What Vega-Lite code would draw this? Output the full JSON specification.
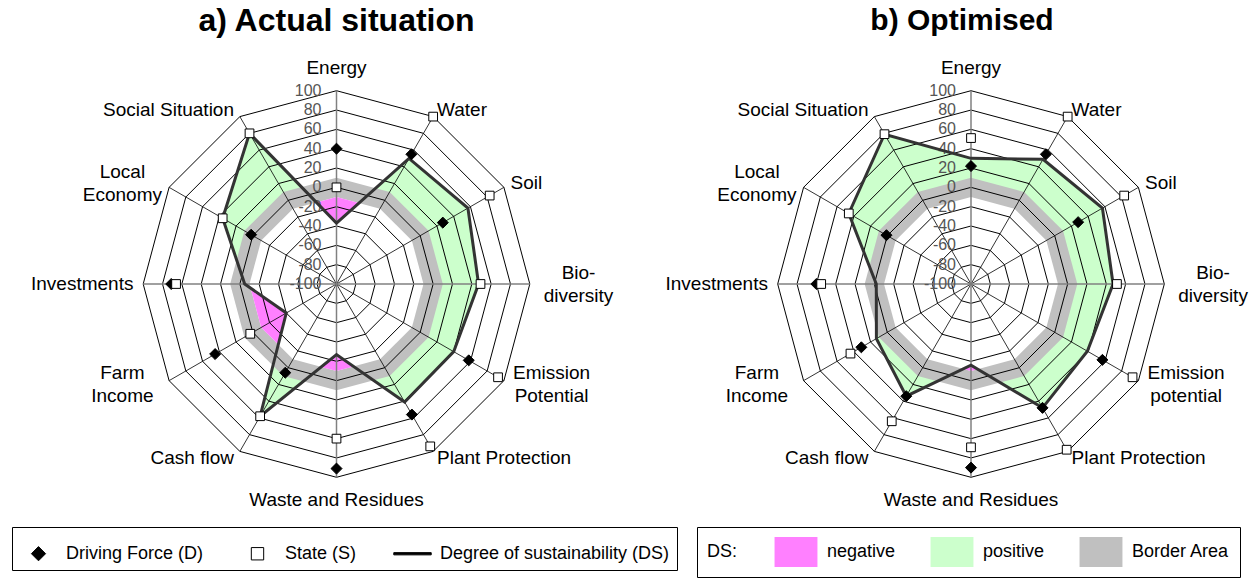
{
"$schema": "https://vega.github.io/schema/vega-lite/v6.json",
"padding": {"left": 0, "top": 5, "right": 0, "bottom": 0},
"spacing": 0,
"bounds": "flush",
"background": "white",
"config": {"view": {"stroke": null}, "font": "Liberation Sans"},
"resolve": {"scale": {"x": "independent", "y": "independent"}},
"datasets": {
"vals": [
{"p":"a","i":0,"D":40,"S":0,"DS":-37},
{"p":"a","i":1,"D":55,"S":100,"DS":50},
{"p":"a","i":2,"D":27,"S":83,"DS":57},
{"p":"a","i":3,"D":null,"S":49,"DS":47},
{"p":"a","i":4,"D":58,"S":93,"DS":40},
{"p":"a","i":5,"D":56,"S":94,"DS":41},
{"p":"a","i":6,"D":91,"S":60,"DS":-27},
{"p":"a","i":7,"D":6,"S":58,"DS":58},
{"p":"a","i":8,"D":45,"S":3,"DS":-40},
{"p":"a","i":9,"D":71,"S":66,"DS":-5},
{"p":"a","i":10,"D":2,"S":36,"DS":36},
{"p":"a","i":11,"D":null,"S":80,"DS":80},
{"p":"b","i":0,"D":22,"S":51,"DS":30},
{"p":"b","i":1,"D":55,"S":100,"DS":49},
{"p":"b","i":2,"D":28,"S":83,"DS":57},
{"p":"b","i":3,"D":null,"S":51,"DS":47},
{"p":"b","i":4,"D":57,"S":93,"DS":39},
{"p":"b","i":5,"D":48,"S":98,"DS":48},
{"p":"b","i":6,"D":90,"S":69,"DS":-16},
{"p":"b","i":7,"D":34,"S":64,"DS":34},
{"p":"b","i":8,"D":31,"S":44,"DS":13},
{"p":"b","i":9,"D":60,"S":55,"DS":-2},
{"p":"b","i":10,"D":1,"S":46,"DS":46},
{"p":"b","i":11,"D":null,"S":79,"DS":79}
],
"pink": [
{"p":"a","g":1,"o":0,"a":346.18,"v":-13.06},
{"p":"a","g":1,"o":1,"a":360,"v":-10},
{"p":"a","g":1,"o":2,"a":375.53,"v":-13.06},
{"p":"a","g":1,"o":3,"a":360,"v":-37},
{"p":"a","g":2,"o":0,"a":223.85,"v":-13.04},
{"p":"a","g":2,"o":1,"a":240,"v":-10},
{"p":"a","g":2,"o":2,"a":267.24,"v":-11.05},
{"p":"a","g":2,"o":3,"a":240,"v":-40},
{"p":"a","g":3,"o":0,"a":168.32,"v":-12.9},
{"p":"a","g":3,"o":1,"a":180,"v":-10},
{"p":"a","g":3,"o":2,"a":190.44,"v":-12.8},
{"p":"a","g":3,"o":3,"a":180,"v":-27},
{"p":"b","g":4,"o":0,"a":175.5,"v":-11.6},
{"p":"b","g":4,"o":1,"a":180,"v":-10},
{"p":"b","g":4,"o":2,"a":185.23,"v":-11.8},
{"p":"b","g":4,"o":3,"a":180,"v":-16}
],
"rings": [
{"v":-80,"k":[0,1,2,3,4,5,6,7,8,9,10,11]},
{"v":-60,"k":[0,1,2,3,4,5,6,7,8,9,10,11]},
{"v":-40,"k":[0,1,2,3,4,5,6,7,8,9,10,11]},
{"v":-20,"k":[0,1,2,3,4,5,6,7,8,9,10,11]},
{"v":0,"k":[0,1,2,3,4,5,6,7,8,9,10,11]},
{"v":20,"k":[0,1,2,3,4,5,6,7,8,9,10,11]},
{"v":40,"k":[0,1,2,3,4,5,6,7,8,9,10,11]},
{"v":60,"k":[0,1,2,3,4,5,6,7,8,9,10,11]},
{"v":80,"k":[0,1,2,3,4,5,6,7,8,9,10,11]},
{"v":100,"k":[0,1,2,3,4,5,6,7,8,9,10,11]}
],
"border": [
{"v":10,"k":[0,1,2,3,4,5,6,7,8,9,10,11]},
{"v":-10,"k":[0,1,2,3,4,5,6,7,8,9,10,11]}
],
"spokes": [{"i":0},{"i":1},{"i":2},{"i":3},{"i":4},{"i":5},{"i":6},{"i":7},{"i":8},{"i":9},{"i":10},{"i":11}],
"ticks": [
{"v":100,"t":"100"},{"v":80,"t":"80"},{"v":60,"t":"60"},{"v":40,"t":"40"},{"v":20,"t":"20"},{"v":0,"t":"0"},
{"v":-20,"t":"-20"},{"v":-40,"t":"-40"},{"v":-60,"t":"-60"},{"v":-80,"t":"-80"},{"v":-100,"t":"-100"}
],
"labels": [
{"p":"a","i":0,"t":"Energy"},
{"p":"a","i":1,"t":"Water"},
{"p":"a","i":2,"t":"Soil"},
{"p":"a","i":3,"t":"Bio-\ndiversity"},
{"p":"a","i":4,"t":"Emission\nPotential"},
{"p":"a","i":5,"t":"Plant Protection"},
{"p":"a","i":6,"t":"Waste and Residues"},
{"p":"a","i":7,"t":"Cash flow"},
{"p":"a","i":8,"t":"Farm\nIncome"},
{"p":"a","i":9,"t":"Investments"},
{"p":"a","i":10,"t":"Local\nEconomy"},
{"p":"a","i":11,"t":"Social Situation"},
{"p":"b","i":0,"t":"Energy"},
{"p":"b","i":1,"t":"Water"},
{"p":"b","i":2,"t":"Soil"},
{"p":"b","i":3,"t":"Bio-\ndiversity"},
{"p":"b","i":4,"t":"Emission\npotential"},
{"p":"b","i":5,"t":"Plant Protection"},
{"p":"b","i":6,"t":"Waste and Residues"},
{"p":"b","i":7,"t":"Cash flow"},
{"p":"b","i":8,"t":"Farm\nIncome"},
{"p":"b","i":9,"t":"Investments"},
{"p":"b","i":10,"t":"Local\nEconomy"},
{"p":"b","i":11,"t":"Social Situation"}
]
},
"hconcat": [
{
"title": {"text": "a) Actual situation", "fontSize": 32, "fontWeight": "bold", "color": "black", "offset": 8},
"width": 673, "height": 476,
"encoding": {
 "x": {"field": "x", "type": "quantitative", "scale": {"domain": [-1.7408, 1.7408], "nice": false, "zero": false}, "axis": null},
 "y": {"field": "y", "type": "quantitative", "scale": {"domain": [-1.2313, 1.2313], "nice": false, "zero": false}, "axis": null}
},
"layer": [
{"data": {"name": "vals"}, "transform": [{"filter": "datum.p === 'a'"}, {"calculate": "(datum.DS + 100) / 200 * sin(datum.i * PI / 6)", "as": "x"}, {"calculate": "(datum.DS + 100) / 200 * cos(datum.i * PI / 6)", "as": "y"}],
 "mark": {"type": "line", "interpolate": "linear-closed", "stroke": "transparent", "strokeWidth": 0},
 "encoding": {"order": {"field": "i", "type": "quantitative"},
  "fill": {"datum": "positive", "type": "nominal",
   "scale": {"domain": ["negative", "positive", "Border Area"], "range": ["#ff80ff", "#ccffcc", "#c0c0c0"]},
   "legend": {"title": "DS:", "titleOrient": "left", "titleFontSize": 18, "titleFontWeight": "normal", "titleColor": "black", "titlePadding": 43,
     "orient": "none", "legendX": 697, "legendY": 481, "direction": "horizontal", "strokeColor": "black", "padding": 10,
     "symbolType": "M-1.43,-1H1.43V1H-1.43Z", "symbolSize": 900, "symbolStrokeWidth": 0, "symbolOpacity": 1,
     "labelFontSize": 18, "labelColor": "black", "labelOffset": 16, "columnPadding": 34, "labelLimit": 300}}}},
{"data": {"name": "border"}, "transform": [{"filter": "datum.v === 10"}, {"flatten": ["k"]}, {"calculate": "(datum.v + 100) / 200 * sin(datum.k * PI / 6)", "as": "x"}, {"calculate": "(datum.v + 100) / 200 * cos(datum.k * PI / 6)", "as": "y"}],
 "mark": {"type": "line", "interpolate": "linear-closed", "stroke": "transparent", "strokeWidth": 0},
 "encoding": {"order": {"field": "k", "type": "quantitative"}, "fill": {"datum": "Border Area", "type": "nominal"}}},
{"data": {"name": "border"}, "transform": [{"filter": "datum.v === -10"}, {"flatten": ["k"]}, {"calculate": "(datum.v + 100) / 200 * sin(datum.k * PI / 6)", "as": "x"}, {"calculate": "(datum.v + 100) / 200 * cos(datum.k * PI / 6)", "as": "y"}],
 "mark": {"type": "line", "interpolate": "linear-closed", "stroke": "transparent", "strokeWidth": 0, "fill": "white"},
 "encoding": {"order": {"field": "k", "type": "quantitative"}}},
{"data": {"name": "pink"}, "transform": [{"filter": "datum.p === 'a'"}, {"calculate": "(datum.v + 100) / 200 * sin(datum.a * PI / 180)", "as": "x"}, {"calculate": "(datum.v + 100) / 200 * cos(datum.a * PI / 180)", "as": "y"}],
 "mark": {"type": "line", "interpolate": "linear-closed", "stroke": "transparent", "strokeWidth": 0},
 "encoding": {"detail": {"field": "g", "type": "nominal"}, "order": {"field": "o", "type": "quantitative"}, "fill": {"datum": "negative", "type": "nominal"}}},
{"data": {"name": "rings"}, "transform": [{"flatten": ["k"]}, {"calculate": "(datum.v + 100) / 200 * sin(datum.k * PI / 6)", "as": "x"}, {"calculate": "(datum.v + 100) / 200 * cos(datum.k * PI / 6)", "as": "y"}],
 "mark": {"type": "line", "interpolate": "linear-closed", "stroke": "black", "strokeWidth": 1},
 "encoding": {"detail": {"field": "v", "type": "nominal"}, "order": {"field": "k", "type": "quantitative"}}},
{"data": {"name": "spokes"}, "transform": [{"filter": "datum.i % 3 !== 0"}, {"calculate": "sin(datum.i * PI / 6)", "as": "x"}, {"calculate": "cos(datum.i * PI / 6)", "as": "y"}, {"calculate": "0", "as": "x0"}, {"calculate": "0", "as": "y0"}],
 "mark": {"type": "rule", "stroke": "black", "strokeWidth": 0.8},
 "encoding": {"x2": {"field": "x0"}, "y2": {"field": "y0"}}},
{"data": {"name": "spokes"}, "transform": [{"filter": "datum.i % 3 === 0"}, {"calculate": "sin(datum.i * PI / 6)", "as": "x"}, {"calculate": "cos(datum.i * PI / 6)", "as": "y"}, {"calculate": "0", "as": "x0"}, {"calculate": "0", "as": "y0"}],
 "mark": {"type": "rule", "stroke": "#808080", "strokeWidth": 1.5},
 "encoding": {"x2": {"field": "x0"}, "y2": {"field": "y0"}}},
{"data": {"name": "ticks"}, "transform": [{"calculate": "0", "as": "x"}, {"calculate": "(datum.v + 100) / 200", "as": "y"}],
 "mark": {"type": "text", "align": "right", "baseline": "middle", "dx": -15, "fontSize": 16, "fill": "#555555"},
 "encoding": {"text": {"field": "t"}}},
{"data": {"name": "vals"}, "transform": [{"filter": "datum.p === 'a'"}, {"calculate": "(datum.DS + 100) / 200 * sin(datum.i * PI / 6)", "as": "x"}, {"calculate": "(datum.DS + 100) / 200 * cos(datum.i * PI / 6)", "as": "y"}],
 "mark": {"type": "line", "interpolate": "linear-closed", "stroke": "#333333", "strokeWidth": 3},
 "encoding": {"order": {"field": "i", "type": "quantitative"}}},
{"data": {"name": "vals"}, "transform": [{"filter": "datum.p === 'a' && datum.D != null"}, {"calculate": "(datum.D + 100) / 200 * sin(datum.i * PI / 6)", "as": "x"}, {"calculate": "(datum.D + 100) / 200 * cos(datum.i * PI / 6)", "as": "y"}],
 "mark": {"type": "point", "filled": true, "stroke": "black", "strokeWidth": 1, "size": 840, "opacity": 1},
 "encoding": {
  "shape": {"datum": "Driving Force (D)", "type": "nominal",
   "scale": {"domain": ["Driving Force (D)", "State (S)", "Degree of sustainability (DS)"], "range": ["M0,-0.38L0.38,0L0,0.38L-0.38,0Z", "M-0.33,-0.33H0.33V0.33H-0.33Z", "M-1,-0.06H1V0.06H-1Z"]},
   "legend": {"title": null, "orient": "none", "legendX": 12, "legendY": 481, "direction": "horizontal", "strokeColor": "black", "padding": 7,
     "symbolSize": 1400, "symbolStrokeColor": "black", "symbolStrokeWidth": 1, "symbolOpacity": 1, "labelFontSize": 18, "labelColor": "black", "labelOffset": 8, "columnPadding": 34, "labelLimit": 400}},
  "color": {"datum": "Driving Force (D)", "type": "nominal",
   "scale": {"domain": ["Driving Force (D)", "State (S)", "Degree of sustainability (DS)"], "range": ["black", "white", "black"]},
   "legend": {"title": null, "orient": "none", "legendX": 12, "legendY": 481, "direction": "horizontal", "strokeColor": "black", "padding": 7,
     "symbolSize": 1400, "symbolStrokeColor": "black", "symbolStrokeWidth": 1, "symbolOpacity": 1, "labelFontSize": 18, "labelColor": "black", "labelOffset": 8, "columnPadding": 34, "labelLimit": 400}}
 }},
{"data": {"name": "vals"}, "transform": [{"filter": "datum.p === 'a'"}, {"calculate": "(datum.S + 100) / 200 * sin(datum.i * PI / 6)", "as": "x"}, {"calculate": "(datum.S + 100) / 200 * cos(datum.i * PI / 6)", "as": "y"}],
 "mark": {"type": "point", "filled": true, "stroke": "black", "strokeWidth": 1, "size": 700, "opacity": 1},
 "encoding": {"shape": {"datum": "State (S)", "type": "nominal"}, "color": {"datum": "State (S)", "type": "nominal"}}},
{"data": {"name": "labels"}, "transform": [{"filter": "datum.p === 'a' && (datum.i === 0 || datum.i === 6)"}, {"calculate": "1.117 * sin(datum.i * PI / 6)", "as": "x"}, {"calculate": "1.117 * cos(datum.i * PI / 6)", "as": "y"}],
 "mark": {"type": "text", "align": "center", "baseline": "middle", "fontSize": 19, "fill": "black"},
 "encoding": {"text": {"field": "t"}}},
{"data": {"name": "labels"}, "transform": [{"filter": "datum.p === 'a' && (datum.i === 1 || datum.i === 2 || datum.i === 5)"}, {"calculate": "1.04 * sin(datum.i * PI / 6)", "as": "x"}, {"calculate": "1.04 * cos(datum.i * PI / 6)", "as": "y"}],
 "mark": {"type": "text", "align": "left", "baseline": "middle", "fontSize": 19, "fill": "black"},
 "encoding": {"text": {"field": "t"}}},
{"data": {"name": "labels"}, "transform": [{"filter": "datum.p === 'a' && (datum.i === 7 || datum.i === 9 || datum.i === 11)"}, {"calculate": "1.04 * sin(datum.i * PI / 6)", "as": "x"}, {"calculate": "1.04 * cos(datum.i * PI / 6)", "as": "y"}],
 "mark": {"type": "text", "align": "right", "baseline": "middle", "dx": -2, "fontSize": 19, "fill": "black"},
 "encoding": {"text": {"field": "t"}}},
{"data": {"name": "labels"}, "transform": [{"filter": "datum.p === 'a' && (datum.i === 3 || datum.i === 4)"}, {"calculate": "1.04 * sin(datum.i * PI / 6)", "as": "x"}, {"calculate": "1.04 * cos(datum.i * PI / 6)", "as": "y"}],
 "mark": {"type": "text", "align": "center", "baseline": "middle", "dx": 41, "dy": -11.5, "lineBreak": "\n", "lineHeight": 23, "fontSize": 19, "fill": "black"},
 "encoding": {"text": {"field": "t"}}},
{"data": {"name": "labels"}, "transform": [{"filter": "datum.p === 'a' && (datum.i === 8 || datum.i === 10)"}, {"calculate": "1.04 * sin(datum.i * PI / 6)", "as": "x"}, {"calculate": "1.04 * cos(datum.i * PI / 6)", "as": "y"}],
 "mark": {"type": "text", "align": "center", "baseline": "middle", "dx": -40, "dy": -11.5, "lineBreak": "\n", "lineHeight": 23, "fontSize": 19, "fill": "black"},
 "encoding": {"text": {"field": "t"}}}
]
},
{
"title": {"text": "b) Optimised", "fontSize": 30, "fontWeight": "bold", "color": "black", "offset": 10, "dx": -9},
"width": 596, "height": 476,
"encoding": {
 "x": {"field": "x", "type": "quantitative", "scale": {"domain": [-1.5416, 1.5416], "nice": false, "zero": false}, "axis": null},
 "y": {"field": "y", "type": "quantitative", "scale": {"domain": [-1.2313, 1.2313], "nice": false, "zero": false}, "axis": null}
},
"layer": [
{"data": {"name": "vals"}, "transform": [{"filter": "datum.p === 'b'"}, {"calculate": "(datum.DS + 100) / 200 * sin(datum.i * PI / 6)", "as": "x"}, {"calculate": "(datum.DS + 100) / 200 * cos(datum.i * PI / 6)", "as": "y"}],
 "mark": {"type": "line", "interpolate": "linear-closed", "stroke": "transparent", "strokeWidth": 0},
 "encoding": {"order": {"field": "i", "type": "quantitative"}, "fill": {"datum": "positive", "type": "nominal"}}},
{"data": {"name": "border"}, "transform": [{"filter": "datum.v === 10"}, {"flatten": ["k"]}, {"calculate": "(datum.v + 100) / 200 * sin(datum.k * PI / 6)", "as": "x"}, {"calculate": "(datum.v + 100) / 200 * cos(datum.k * PI / 6)", "as": "y"}],
 "mark": {"type": "line", "interpolate": "linear-closed", "stroke": "transparent", "strokeWidth": 0},
 "encoding": {"order": {"field": "k", "type": "quantitative"}, "fill": {"datum": "Border Area", "type": "nominal"}}},
{"data": {"name": "border"}, "transform": [{"filter": "datum.v === -10"}, {"flatten": ["k"]}, {"calculate": "(datum.v + 100) / 200 * sin(datum.k * PI / 6)", "as": "x"}, {"calculate": "(datum.v + 100) / 200 * cos(datum.k * PI / 6)", "as": "y"}],
 "mark": {"type": "line", "interpolate": "linear-closed", "stroke": "transparent", "strokeWidth": 0, "fill": "white"},
 "encoding": {"order": {"field": "k", "type": "quantitative"}}},
{"data": {"name": "pink"}, "transform": [{"filter": "datum.p === 'b'"}, {"calculate": "(datum.v + 100) / 200 * sin(datum.a * PI / 180)", "as": "x"}, {"calculate": "(datum.v + 100) / 200 * cos(datum.a * PI / 180)", "as": "y"}],
 "mark": {"type": "line", "interpolate": "linear-closed", "stroke": "transparent", "strokeWidth": 0},
 "encoding": {"detail": {"field": "g", "type": "nominal"}, "order": {"field": "o", "type": "quantitative"}, "fill": {"datum": "negative", "type": "nominal"}}},
{"data": {"name": "rings"}, "transform": [{"flatten": ["k"]}, {"calculate": "(datum.v + 100) / 200 * sin(datum.k * PI / 6)", "as": "x"}, {"calculate": "(datum.v + 100) / 200 * cos(datum.k * PI / 6)", "as": "y"}],
 "mark": {"type": "line", "interpolate": "linear-closed", "stroke": "black", "strokeWidth": 1},
 "encoding": {"detail": {"field": "v", "type": "nominal"}, "order": {"field": "k", "type": "quantitative"}}},
{"data": {"name": "spokes"}, "transform": [{"filter": "datum.i % 3 !== 0"}, {"calculate": "sin(datum.i * PI / 6)", "as": "x"}, {"calculate": "cos(datum.i * PI / 6)", "as": "y"}, {"calculate": "0", "as": "x0"}, {"calculate": "0", "as": "y0"}],
 "mark": {"type": "rule", "stroke": "black", "strokeWidth": 0.8},
 "encoding": {"x2": {"field": "x0"}, "y2": {"field": "y0"}}},
{"data": {"name": "spokes"}, "transform": [{"filter": "datum.i % 3 === 0"}, {"calculate": "sin(datum.i * PI / 6)", "as": "x"}, {"calculate": "cos(datum.i * PI / 6)", "as": "y"}, {"calculate": "0", "as": "x0"}, {"calculate": "0", "as": "y0"}],
 "mark": {"type": "rule", "stroke": "#808080", "strokeWidth": 1.5},
 "encoding": {"x2": {"field": "x0"}, "y2": {"field": "y0"}}},
{"data": {"name": "ticks"}, "transform": [{"calculate": "0", "as": "x"}, {"calculate": "(datum.v + 100) / 200", "as": "y"}],
 "mark": {"type": "text", "align": "right", "baseline": "middle", "dx": -15, "fontSize": 16, "fill": "#555555"},
 "encoding": {"text": {"field": "t"}}},
{"data": {"name": "vals"}, "transform": [{"filter": "datum.p === 'b'"}, {"calculate": "(datum.DS + 100) / 200 * sin(datum.i * PI / 6)", "as": "x"}, {"calculate": "(datum.DS + 100) / 200 * cos(datum.i * PI / 6)", "as": "y"}],
 "mark": {"type": "line", "interpolate": "linear-closed", "stroke": "#333333", "strokeWidth": 3},
 "encoding": {"order": {"field": "i", "type": "quantitative"}}},
{"data": {"name": "vals"}, "transform": [{"filter": "datum.p === 'b' && datum.D != null"}, {"calculate": "(datum.D + 100) / 200 * sin(datum.i * PI / 6)", "as": "x"}, {"calculate": "(datum.D + 100) / 200 * cos(datum.i * PI / 6)", "as": "y"}],
 "mark": {"type": "point", "filled": true, "stroke": "black", "strokeWidth": 1, "size": 840, "opacity": 1},
 "encoding": {"shape": {"datum": "Driving Force (D)", "type": "nominal"}, "color": {"datum": "Driving Force (D)", "type": "nominal"}}},
{"data": {"name": "vals"}, "transform": [{"filter": "datum.p === 'b'"}, {"calculate": "(datum.S + 100) / 200 * sin(datum.i * PI / 6)", "as": "x"}, {"calculate": "(datum.S + 100) / 200 * cos(datum.i * PI / 6)", "as": "y"}],
 "mark": {"type": "point", "filled": true, "stroke": "black", "strokeWidth": 1, "size": 700, "opacity": 1},
 "encoding": {"shape": {"datum": "State (S)", "type": "nominal"}, "color": {"datum": "State (S)", "type": "nominal"}}},
{"data": {"name": "labels"}, "transform": [{"filter": "datum.p === 'b' && (datum.i === 0 || datum.i === 6)"}, {"calculate": "1.117 * sin(datum.i * PI / 6)", "as": "x"}, {"calculate": "1.117 * cos(datum.i * PI / 6)", "as": "y"}],
 "mark": {"type": "text", "align": "center", "baseline": "middle", "fontSize": 19, "fill": "black"},
 "encoding": {"text": {"field": "t"}}},
{"data": {"name": "labels"}, "transform": [{"filter": "datum.p === 'b' && (datum.i === 1 || datum.i === 2 || datum.i === 5)"}, {"calculate": "1.04 * sin(datum.i * PI / 6)", "as": "x"}, {"calculate": "1.04 * cos(datum.i * PI / 6)", "as": "y"}],
 "mark": {"type": "text", "align": "left", "baseline": "middle", "fontSize": 19, "fill": "black"},
 "encoding": {"text": {"field": "t"}}},
{"data": {"name": "labels"}, "transform": [{"filter": "datum.p === 'b' && (datum.i === 7 || datum.i === 9 || datum.i === 11)"}, {"calculate": "1.04 * sin(datum.i * PI / 6)", "as": "x"}, {"calculate": "1.04 * cos(datum.i * PI / 6)", "as": "y"}],
 "mark": {"type": "text", "align": "right", "baseline": "middle", "dx": -2, "fontSize": 19, "fill": "black"},
 "encoding": {"text": {"field": "t"}}},
{"data": {"name": "labels"}, "transform": [{"filter": "datum.p === 'b' && (datum.i === 3 || datum.i === 4)"}, {"calculate": "1.04 * sin(datum.i * PI / 6)", "as": "x"}, {"calculate": "1.04 * cos(datum.i * PI / 6)", "as": "y"}],
 "mark": {"type": "text", "align": "center", "baseline": "middle", "dx": 41, "dy": -11.5, "lineBreak": "\n", "lineHeight": 23, "fontSize": 19, "fill": "black"},
 "encoding": {"text": {"field": "t"}}},
{"data": {"name": "labels"}, "transform": [{"filter": "datum.p === 'b' && (datum.i === 8 || datum.i === 10)"}, {"calculate": "1.04 * sin(datum.i * PI / 6)", "as": "x"}, {"calculate": "1.04 * cos(datum.i * PI / 6)", "as": "y"}],
 "mark": {"type": "text", "align": "center", "baseline": "middle", "dx": -40, "dy": -11.5, "lineBreak": "\n", "lineHeight": 23, "fontSize": 19, "fill": "black"},
 "encoding": {"text": {"field": "t"}}}
]
}
]
}
